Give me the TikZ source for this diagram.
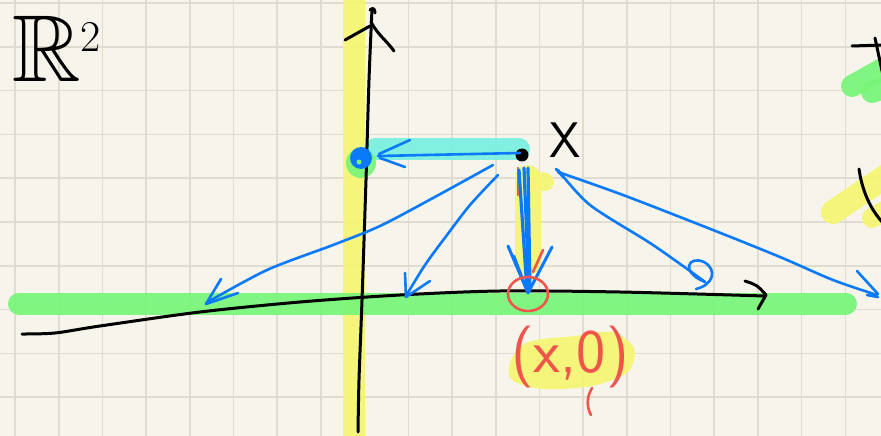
\documentclass[tikz,border=0pt]{standalone}
\usepackage{amssymb}
\definecolor{paper}{RGB}{247,245,235}
\definecolor{gridc}{RGB}{224,221,208}
\definecolor{hlyellow}{RGB}{245,245,115}
\definecolor{hlgreen}{RGB}{120,245,120}
\definecolor{hlcyan}{RGB}{120,240,225}
\definecolor{penblue}{RGB}{10,122,250}
\definecolor{penred}{RGB}{240,85,75}
\tikzset{
  hl/.style={line width=22pt, line cap=round, opacity=0.92},
  ink/.style={line width=2.6pt, line cap=round, line join=round},
  blueink/.style={ink, draw=penblue},
  redink/.style={ink, draw=penred},
}
\begin{document}
\begin{tikzpicture}[x=1pt,y=-1pt]
\useasboundingbox (0,0) rectangle (881,436);
\fill[paper] (0,0) rectangle (881,436);
% grid
\foreach \k in {0,...,19} {\draw[gridc, line width=1.6pt] ({15+43.7*\k},0) -- ({15+43.7*\k},436);}
\foreach \k in {0,...,9} {\draw[gridc, line width=1.6pt] (0,{3+43.8*\k}) -- (881,{3+43.8*\k});}
% highlights
\draw[hl, hlyellow, line cap=butt] (354,-5) -- (354,441);
\draw[hl, hlgreen] (19,303.5) -- (846,303.5);
\draw[hl, hlcyan] (375,149) -- (519,149);
\fill[hlgreen, opacity=0.92] (361,163) circle (15);
\draw[hl, hlyellow, line width=26pt] (528,178) -- (528,262);
\draw[hl, hlyellow, line width=18pt] (532,180) -- (545,182);
\draw[hl, hlgreen] (852,86) -- (895,62);
\draw[hl, hlgreen] (872,92) -- (895,84);
\draw[hl, hlyellow, line width=24pt] (833,212) -- (895,170);
\draw[hl, hlyellow, line width=20pt] (872,218) -- (895,205);
\fill[hlyellow, opacity=0.92] plot[smooth cycle] coordinates {(510,362) (528,342) (575,336) (612,332) (634,348) (628,372) (592,386) (542,389) (512,380)};
% axes
\draw[ink, line width=3pt] plot[smooth] coordinates {(372,9) (369,80) (366,180) (362,300) (359,380) (358,432)};
\draw[ink, line width=3pt] (345,40) -- (370,26);
\draw[ink, line width=3pt] (371,22) .. controls (378,35) and (386,40) .. (394,51);
\draw[ink, line width=3pt] (370,10) .. controls (373,7) and (375,9) .. (375,13);
\draw[ink, line width=3pt] plot[smooth] coordinates {(22,334) (55,333) (100,326) (200,312) (300,302) (400,295) (500,291) (620,292) (765,296)};
\draw[ink, line width=3pt] (745,281) .. controls (757,285) .. (766,295) -- (758,309);
% right edge marks
\draw[ink, line width=3pt] (852,46) -- (882,45);
\draw[ink, line width=3pt] (875,38) -- (884,80);
\draw[ink, line width=3pt] (859,169) .. controls (862,190) and (870,210) .. (885,225);
% point and projection to y-axis
\fill[black] (522,155) circle (6.5);
\draw[blueink] (520,153) -- (378,156);
\draw[blueink] (410,140) -- (379,154);
\draw[blueink] (380,158) -- (405,167);
\fill[penblue] (361,158) circle (11);
\fill[hlgreen] (359,162) circle (2.5);
% projection arrow to x-axis
\draw[redink] (518,168) -- (518,195);
\draw[redink] (543,250) -- (533,272);
\draw[blueink, line width=3.2pt] (519,170) -- (527,291);
\draw[blueink, line width=3.2pt] (524,168) -- (529,291);
\draw[blueink, line width=3.2pt] (528,168) -- (530,290);
\draw[blueink, line width=3pt] (508,246) -- (528,293) -- (552,247);
\draw[blueink] (514,256) -- (527,290);
\draw[redink] (528,294) ellipse (20 and 17);
% other arrows
\draw[blueink] plot[smooth] coordinates {(493,165) (433,198) (380,226) (333,245) (267,270) (206,303)};
\draw[blueink] (221,279) -- (206,304) -- (238,293);
\draw[blueink] plot[smooth] coordinates {(498,175) (470,205) (447,235) (425,265) (406,296)};
\draw[blueink] (405,273) -- (406,297) -- (430,281);
\draw[blueink] plot[smooth] coordinates {(558,170) (590,205) (650,243) (690,271) (705,282)};
\draw[blueink] (705,282) .. controls (680,272) and (688,255) .. (704,262) .. controls (718,270) and (713,285) .. (696,289);
\draw[blueink] plot[smooth] coordinates {(558,172) (623,195) (713,230) (780,257) (833,280) (877,295)};
\draw[blueink] (857,271) -- (878,294);
\draw[blueink] (867,295) -- (878,297);
\draw[blueink] (556,169) -- (564,178);
% texts
\node[inner sep=0pt, anchor=north west, font=\fontsize{95}{95}\selectfont] (r2) at (12,16) {$\mathbb{R}$\raisebox{30pt}{\fontsize{44}{44}\selectfont 2}};
\node[inner sep=0pt, anchor=center, font=\fontsize{50}{50}\selectfont\sffamily] (xlab) at (565,140) {X};
\node[inner sep=0pt, anchor=center, text=penred, font=\fontsize{62}{62}\selectfont\sffamily] (pt) at (570,357) {(x,0)};
\draw[redink] (592,388) .. controls (586,398) and (587,408) .. (591,415);
\end{tikzpicture}
\end{document}
